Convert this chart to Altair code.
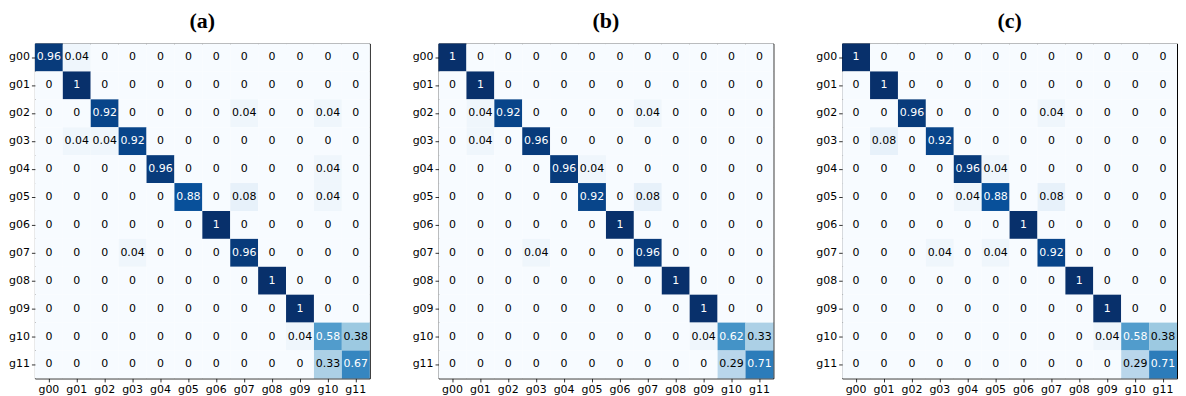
import altair as alt
import pandas as pd

classes = ["g00", "g01", "g02", "g03", "g04", "g05", "g06", "g07", "g08", "g09", "g10", "g11"]
panel_titles = ["(a)", "(b)", "(c)"]

matrix_a = [
    [0.96, 0.04, 0, 0, 0, 0, 0, 0, 0, 0, 0, 0],
    [0, 1, 0, 0, 0, 0, 0, 0, 0, 0, 0, 0],
    [0, 0, 0.92, 0, 0, 0, 0, 0.04, 0, 0, 0.04, 0],
    [0, 0.04, 0.04, 0.92, 0, 0, 0, 0, 0, 0, 0, 0],
    [0, 0, 0, 0, 0.96, 0, 0, 0, 0, 0, 0.04, 0],
    [0, 0, 0, 0, 0, 0.88, 0, 0.08, 0, 0, 0.04, 0],
    [0, 0, 0, 0, 0, 0, 1, 0, 0, 0, 0, 0],
    [0, 0, 0, 0.04, 0, 0, 0, 0.96, 0, 0, 0, 0],
    [0, 0, 0, 0, 0, 0, 0, 0, 1, 0, 0, 0],
    [0, 0, 0, 0, 0, 0, 0, 0, 0, 1, 0, 0],
    [0, 0, 0, 0, 0, 0, 0, 0, 0, 0.04, 0.58, 0.38],
    [0, 0, 0, 0, 0, 0, 0, 0, 0, 0, 0.33, 0.67],
]

matrix_b = [
    [1, 0, 0, 0, 0, 0, 0, 0, 0, 0, 0, 0],
    [0, 1, 0, 0, 0, 0, 0, 0, 0, 0, 0, 0],
    [0, 0.04, 0.92, 0, 0, 0, 0, 0.04, 0, 0, 0, 0],
    [0, 0.04, 0, 0.96, 0, 0, 0, 0, 0, 0, 0, 0],
    [0, 0, 0, 0, 0.96, 0.04, 0, 0, 0, 0, 0, 0],
    [0, 0, 0, 0, 0, 0.92, 0, 0.08, 0, 0, 0, 0],
    [0, 0, 0, 0, 0, 0, 1, 0, 0, 0, 0, 0],
    [0, 0, 0, 0.04, 0, 0, 0, 0.96, 0, 0, 0, 0],
    [0, 0, 0, 0, 0, 0, 0, 0, 1, 0, 0, 0],
    [0, 0, 0, 0, 0, 0, 0, 0, 0, 1, 0, 0],
    [0, 0, 0, 0, 0, 0, 0, 0, 0, 0.04, 0.62, 0.33],
    [0, 0, 0, 0, 0, 0, 0, 0, 0, 0, 0.29, 0.71],
]

matrix_c = [
    [1, 0, 0, 0, 0, 0, 0, 0, 0, 0, 0, 0],
    [0, 1, 0, 0, 0, 0, 0, 0, 0, 0, 0, 0],
    [0, 0, 0.96, 0, 0, 0, 0, 0.04, 0, 0, 0, 0],
    [0, 0.08, 0, 0.92, 0, 0, 0, 0, 0, 0, 0, 0],
    [0, 0, 0, 0, 0.96, 0.04, 0, 0, 0, 0, 0, 0],
    [0, 0, 0, 0, 0.04, 0.88, 0, 0.08, 0, 0, 0, 0],
    [0, 0, 0, 0, 0, 0, 1, 0, 0, 0, 0, 0],
    [0, 0, 0, 0.04, 0, 0.04, 0, 0.92, 0, 0, 0, 0],
    [0, 0, 0, 0, 0, 0, 0, 0, 1, 0, 0, 0],
    [0, 0, 0, 0, 0, 0, 0, 0, 0, 1, 0, 0],
    [0, 0, 0, 0, 0, 0, 0, 0, 0, 0.04, 0.58, 0.38],
    [0, 0, 0, 0, 0, 0, 0, 0, 0, 0, 0.29, 0.71],
]

blues = ["#f7fbff", "#deebf7", "#c6dbef", "#9ecae1", "#6baed6",
         "#4292c6", "#2171b5", "#08519c", "#08306b"]
blues_domain = [i / 8 for i in range(9)]

SIZE = 336


def to_frame(matrix):
    rows = []
    for i, true_cls in enumerate(classes):
        for j, pred_cls in enumerate(classes):
            v = matrix[i][j]
            rows.append({"true": true_cls, "pred": pred_cls, "value": v,
                         "label": f"{v:g}"})
    return pd.DataFrame(rows)


def panel(matrix, title):
    df = to_frame(matrix)
    base = alt.Chart(df).encode(
        x=alt.X("pred:O", sort=classes, title=None,
                axis=alt.Axis(labelAngle=0, orient="bottom")),
        y=alt.Y("true:O", sort=classes, title=None),
    )
    rect = base.mark_rect().encode(
        color=alt.Color("value:Q", legend=None,
                        scale=alt.Scale(domain=blues_domain, range=blues,
                                        interpolate="rgb")),
    )
    text = base.mark_text(font="DejaVu Sans", fontSize=11).encode(
        text="label:N",
        color=alt.condition(alt.datum.value > 0.5, alt.value("white"),
                            alt.value("black")),
    )
    return (rect + text).properties(
        width=SIZE, height=SIZE,
        title=alt.TitleParams(title, font="Liberation Serif", fontSize=22,
                              fontWeight="bold", color="black", offset=11),
    )


chart = alt.hconcat(
    panel(matrix_a, panel_titles[0]),
    panel(matrix_b, panel_titles[1]),
    panel(matrix_c, panel_titles[2]),
    spacing=41,
).properties(padding=0).configure_view(
    stroke="black", strokeWidth=1
).configure_axis(
    labelFont="DejaVu Sans", labelFontSize=11, labelColor="black",
    tickColor="black", tickSize=3.5, tickWidth=0.8, labelPadding=2,
    domain=False, grid=False, bandPosition=0.5,
)

chart.save("out.html", embed_options={"renderer": "svg", "actions": False})
